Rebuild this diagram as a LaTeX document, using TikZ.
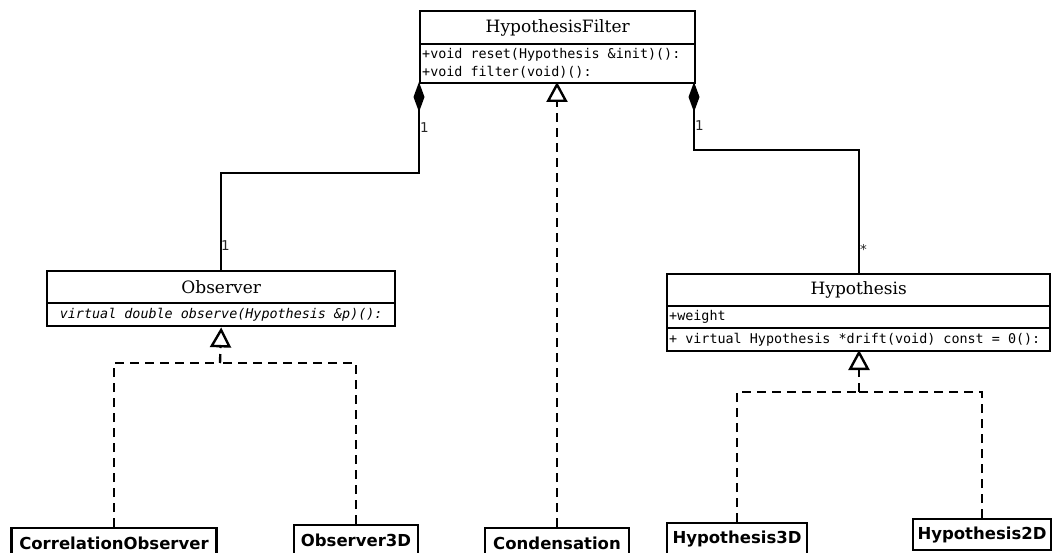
\documentclass[tikz,border=0pt]{standalone}
\usepackage{fontspec}
\setmainfont{DejaVu Serif}
\setsansfont{DejaVu Sans}
\setmonofont{DejaVu Sans Mono}
\usetikzlibrary{arrows.meta}
\tikzset{
  box/.style={draw, line width=2.4pt, rectangle, inner sep=0pt, anchor=north west},
  ttl/.style={box, font=\rmfamily\fontsize{17}{20}\selectfont},
  txt/.style={font=\ttfamily\fontsize{13.4}{18}\selectfont, align=left, inner sep=0pt, anchor=west},
  leaf/.style={draw, line width=2.4pt, rectangle, inner sep=0pt, anchor=north, minimum height=31pt, font=\sffamily\bfseries\fontsize{16.5}{20}\selectfont},
  mult/.style={font=\sffamily\fontsize{13.5}{15}\selectfont, text=black!85, inner sep=0pt, anchor=west},
  comp/.style={line width=2.4pt, -{Diamond[length=30pt,width=11pt]}},
  real/.style={line width=2.4pt, dash pattern=on 9pt off 6pt, -{Triangle[open,length=20pt,width=21pt,line width=2.4pt]}},
  dline/.style={line width=2.4pt, dash pattern=on 9pt off 6pt},
}
\begin{document}
\begin{tikzpicture}[x=1pt,y=-1pt]
\clip (0,0) rectangle (1054,553);
\fill[white] (0,0) rectangle (1054,553);
% HypothesisFilter
\node[ttl, minimum width=275pt, minimum height=33pt] (filter) at (419,10) {HypothesisFilter};
\node[box, minimum width=275pt, minimum height=39pt] (filterm) at (419,43) {};
\node[txt] (filtert) at ([xshift=3pt]filterm.west) {+void reset(Hypothesis \&init)():\\+void filter(void)():};
% Observer
\node[ttl, minimum width=348pt, minimum height=32pt] (obs) at (46,270) {Observer};
\node[box, minimum width=348pt, minimum height=23pt, font=\ttfamily\itshape\fontsize{13.4}{18}\selectfont] (obsm) at (46,302) {virtual double observe(Hypothesis \&p)():};
% Hypothesis
\node[ttl, minimum width=383pt, minimum height=32pt] (hyp) at (666,273) {Hypothesis};
\node[box, minimum width=383pt, minimum height=22pt] (hypa) at (666,305) {};
\node[txt] (hypat) at ([xshift=3pt]hypa.west) {+weight};
\node[box, minimum width=383pt, minimum height=23pt] (hypm) at (666,327) {};
\node[txt] (hypmt) at ([xshift=3pt]hypm.west) {+ virtual Hypothesis *drift(void) const = 0():};
% leaves
\node[leaf, minimum width=205pt] (corr) at (114,527) {CorrelationObserver};
\node[leaf, minimum width=124pt] (obs3d) at (356,524) {Observer3D};
\node[leaf, minimum width=144pt] (cond) at (557,527) {Condensation};
\node[leaf, minimum width=140pt] (hyp3d) at (737,522) {Hypothesis3D};
\node[leaf, minimum width=138pt] (hyp2d) at (982,518) {Hypothesis2D};
% compositions
\coordinate (fl) at (419,82);
\coordinate (fr) at (694,82);
\coordinate (bendL) at (419,173);
\coordinate (bendR) at (694,150);
\draw[comp] (obs.north) |- (bendL) -- (fl);
\draw[comp] (859,273) |- (bendR) -- (fr);
\node[mult] (m1) at (420,128) {1};
\node[mult] (m2) at (221,246) {1};
\node[mult] (m3) at (695,126) {1};
\node[mult] (m4) at (860,249) {*};
% realization
\draw[real] (cond.north) -- (cond.north |- fl);
% Observer generalization
\coordinate (oj) at (220,363);
\draw[dline] (corr.north) |- (oj);
\draw[dline] (obs3d.north) |- (oj);
\draw[real] (oj) -- (obsm.south);
% Hypothesis generalization
\coordinate (hj) at (859,392);
\draw[dline] (hyp3d.north) |- (hj);
\draw[dline] (hyp2d.north) |- (hj);
\draw[real] (hj) -- (859,350);
\end{tikzpicture}
\end{document}
